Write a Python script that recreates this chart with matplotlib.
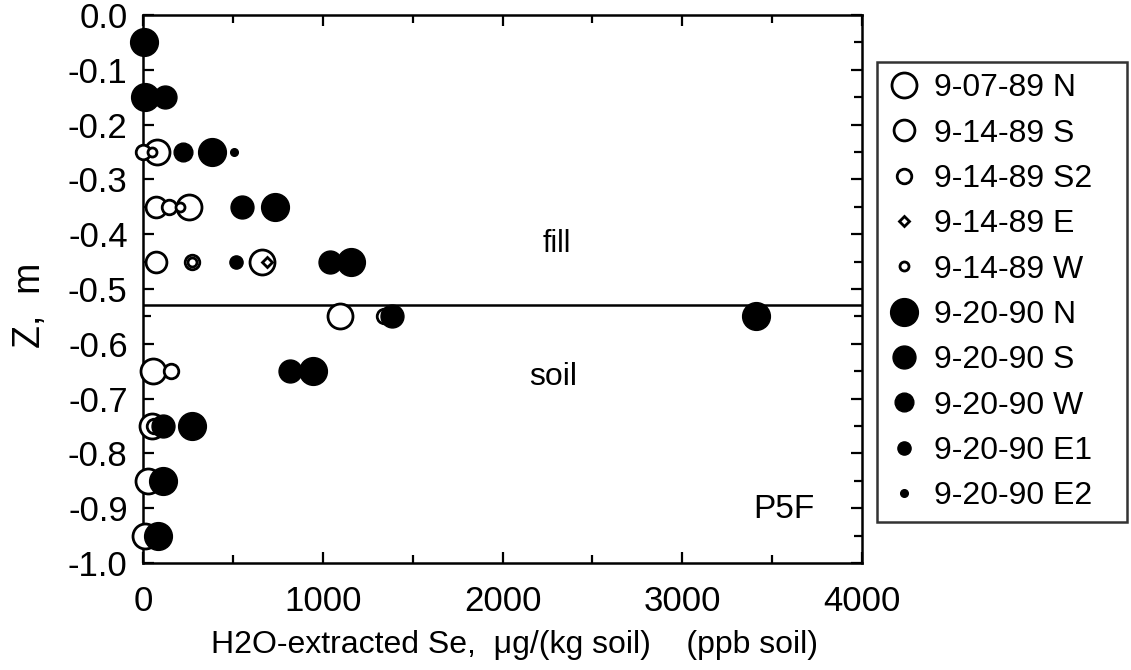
import matplotlib
matplotlib.use("Agg")
import matplotlib.pyplot as plt
from matplotlib.ticker import MultipleLocator, FormatStrFormatter

plt.rcParams['font.family'] = ['Liberation Sans', 'DejaVu Sans']

# ---- data (x: ug/kg soil, z: m) ----
n0789_x = [80, 255, 660, 1095, 55, 50, 30, 10]
n0789_z = [-0.25, -0.35, -0.45, -0.55, -0.65, -0.75, -0.85, -0.95]
s1489_x = [70, 72]
s1489_z = [-0.35, -0.45]
s21489_x = [0, 145, 270, 1340, 155, 60]
s21489_z = [-0.25, -0.35, -0.45, -0.55, -0.65, -0.75]
e1489_x = [690]
e1489_z = [-0.45]
w1489_x = [50, 205, 270]
w1489_z = [-0.25, -0.35, -0.45]
n2090_x = [5, 10, 385, 735, 1155, 3410, 945, 270, 110, 85]
n2090_z = [-0.05, -0.15, -0.25, -0.35, -0.45, -0.55, -0.65, -0.75, -0.85, -0.95]
s2090_x = [120, 550, 1040, 1385, 820, 110]
s2090_z = [-0.15, -0.35, -0.45, -0.55, -0.65, -0.75]
w2090_x = [220]
w2090_z = [-0.25]
e12090_x = [515]
e12090_z = [-0.45]
e22090_x = [505]
e22090_z = [-0.25]

fill_soil_boundary = -0.53

series = [
    ("9-07-89 N", n0789_x, n0789_z, 'o', 18.0, 'white'),
    ("9-14-89 S", s1489_x, s1489_z, 'o', 15.0, 'white'),
    ("9-14-89 S2", s21489_x, s21489_z, 'o', 10.5, 'white'),
    ("9-14-89 E", e1489_x, e1489_z, 'D', 5.0, 'white'),
    ("9-14-89 W", w1489_x, w1489_z, 'o', 6.5, 'white'),
    ("9-20-90 N", n2090_x, n2090_z, 'o', 20.0, 'black'),
    ("9-20-90 S", s2090_x, s2090_z, 'o', 16.5, 'black'),
    ("9-20-90 W", w2090_x, w2090_z, 'o', 13.5, 'black'),
    ("9-20-90 E1", e12090_x, e12090_z, 'o', 9.5, 'black'),
    ("9-20-90 E2", e22090_x, e22090_z, 'o', 5.5, 'black'),
]

fig = plt.figure(figsize=(11.31, 6.70), dpi=100)
ax = fig.add_axes([143/1131, 1-563/670, 719/1131, 548/670])

handles = []
for label, xs, zs, mk, ms, fc in series:
    h, = ax.plot(xs, zs, linestyle='none', marker=mk, markersize=ms,
                 markerfacecolor=fc, markeredgecolor='black',
                 markeredgewidth=2.0 if fc == 'white' else 1.0,
                 label=label, clip_on=False, zorder=3)
    handles.append(h)

ax.axhline(fill_soil_boundary, color='black', lw=1.8, zorder=2)

ax.set_xlim(0, 4000)
ax.set_ylim(-1.0, 0.0)
ax.xaxis.set_major_locator(MultipleLocator(1000))
ax.xaxis.set_minor_locator(MultipleLocator(500))
ax.yaxis.set_major_locator(MultipleLocator(0.1))
ax.yaxis.set_minor_locator(MultipleLocator(0.05))
ax.yaxis.set_major_formatter(FormatStrFormatter('%.1f'))
ax.tick_params(which='both', direction='in', top=True, right=True,
               width=1.6, labelsize=25)
ax.tick_params(axis='x', which='major', pad=16)
ax.tick_params(axis='y', which='major', pad=11)
ax.tick_params(which='major', length=8)
ax.tick_params(which='minor', length=6)
for sp in ax.spines.values():
    sp.set_linewidth(1.8)

ax.text(2300, -0.418, "fill", fontsize=22, ha='center', va='center')
ax.text(2280, -0.660, "soil", fontsize=23, ha='center', va='center')
ax.text(3565, -0.903, "P5F", fontsize=24, ha='center', va='center')

ax.set_xlabel("H2O-extracted Se,  \u03bcg/(kg soil)    (ppb soil)", fontsize=23)
ax.xaxis.set_label_coords(0.516, -0.122)
ax.set_ylabel("Z,  m", fontsize=27)
ax.yaxis.set_label_coords(-0.132, 0.471)

leg = fig.legend(handles=handles, loc='upper left',
                 bbox_to_anchor=(877/1131, 1-517/670, 250/1131, 455/670),
                 mode='expand', frameon=True, fancybox=False,
                 edgecolor='black', fontsize=23, labelspacing=0.48,
                 handletextpad=0.45, borderpad=0.35, handlelength=1.0,
                 markerscale=1.0, borderaxespad=0)
leg.get_frame().set_linewidth(1.8)

fig.savefig("out.png", dpi=100)
